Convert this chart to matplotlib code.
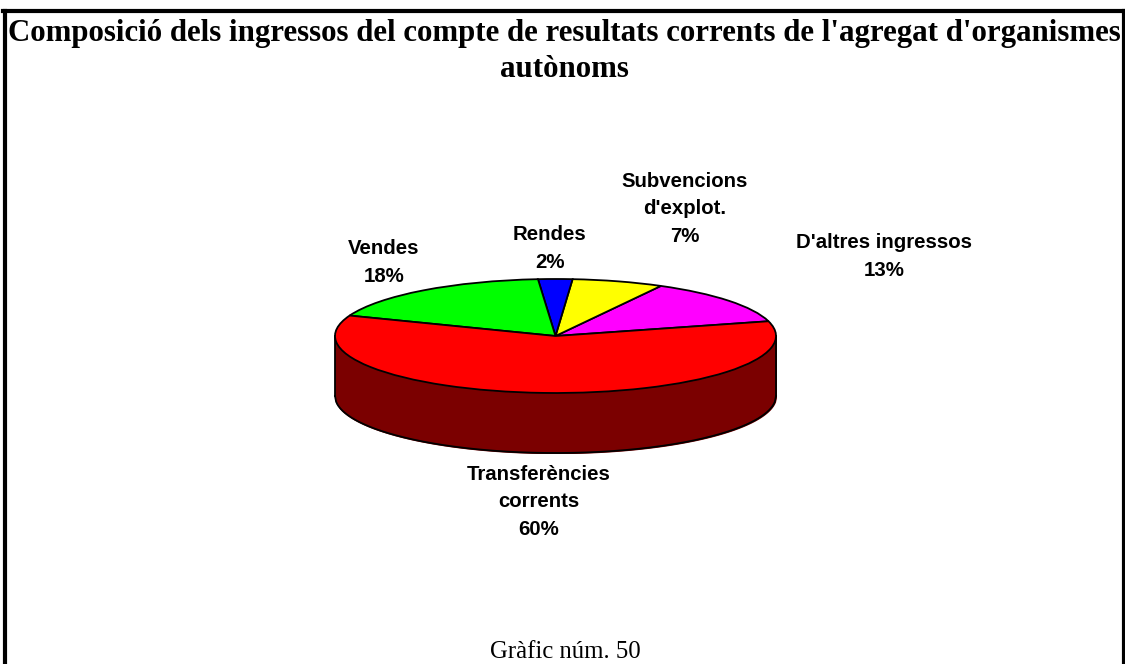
import numpy as np
import matplotlib
matplotlib.use('Agg')
import matplotlib.pyplot as plt

W, H = 1125, 664

# counterclockwise from the right hand side of the pie
categories = ["D'altres ingressos", "Subvencions\nd'explot.", "Rendes", "Vendes", "Transferències\ncorrents"]
shares = [12.9, 6.7, 2.5, 17.9, 60.0]
percents = ['13%', '7%', '2%', '18%', '60%']   # as printed
colors = ['#ff00ff', '#ffff00', '#0000ff', '#00ff00', '#ff0000']
label_x = [884, 685, 550, 384, 539]
label_y = [276, 242, 268, 282, 535]   # baseline of the last line

title = "Composició dels ingressos del compte de resultats corrents de l'agregat d'organismes\nautònoms"
footer = "Gràfic núm. 50"

fig = plt.figure(figsize=(W / 100, H / 100), dpi=100, facecolor='white')

# pie size in pixels
left, right, top, bottom = 335, 776, 279, 393
depth = 60
ry = (bottom - top) / 2
ax = fig.add_axes([left / W, 1 - (bottom + depth) / H, (right - left) / W, (bottom + depth - top) / H])

# flattened pie, the aspect is freed after drawing it
ax.pie(shares, colors=colors, startangle=15, radius=1,
       wedgeprops={'edgecolor': 'black', 'linewidth': 1.3, 'zorder': 3})
ax.set_aspect('auto')
ax.set_xlim(-1, 1)
d = depth / ry
ax.set_ylim(-1 - d, 1)

# side of the cylinder
x = np.linspace(-1, 1, 400)
edge = -np.sqrt(1 - x ** 2)
ax.fill_between(x, edge, edge - d, color='#7b0000', zorder=1)
ax.plot(x, edge - d, color='black', lw=1.3, zorder=2, clip_on=False)
ax.plot([-1, -1], [0, -d], color='black', lw=1.3, zorder=2, clip_on=False)
ax.plot([1, 1], [0, -d], color='black', lw=1.3, zorder=2, clip_on=False)
for p in ax.patches:
    p.set_clip_on(False)

for name, pct, lx, ly in zip(categories, percents, label_x, label_y):
    fig.text(lx / W, 1 - ly / H, name + '\n' + pct, ha='center', va='baseline',
             family='Liberation Sans', weight='bold', size=14.7, linespacing=1.58, color='black')

fig.text(564 / W, 1 - 77 / H, title, ha='center', va='baseline', family='Liberation Serif',
         weight='bold', size=22.2, linespacing=1.31, color='black')
fig.text(565.5 / W, 1 - 658 / H, footer, ha='center', va='baseline', family='Liberation Serif',
         size=17.8, color='black')

# frame, open at the bottom
fig.add_artist(plt.Line2D([5 / W, 5 / W], [0, 1 - 11 / H], color='black', lw=3))
fig.add_artist(plt.Line2D([3 / W, 1], [1 - 11 / H, 1 - 11 / H], color='black', lw=3))
fig.add_artist(plt.Line2D([1124 / W, 1124 / W], [0, 1 - 11 / H], color='black', lw=3))

fig.savefig('out.png', dpi=100)
